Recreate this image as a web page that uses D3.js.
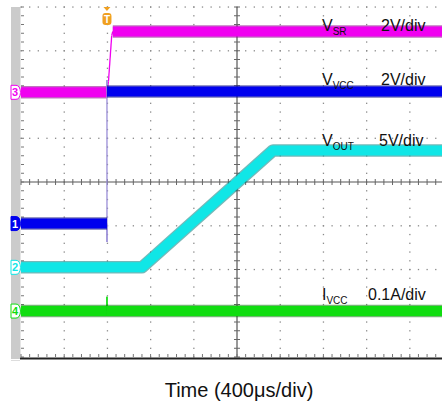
<!DOCTYPE html>
<html><head><meta charset="utf-8">
<script src="https://cdn.jsdelivr.net/npm/d3@7"></script>
<style>body{margin:0;background:#fff}svg{display:block}text{font-family:"Liberation Sans",Arial,sans-serif}</style>
</head><body><svg id="c" width="442" height="405"></svg>
<script>
// time in µs relative to screen centre (400 µs/div); levels in screen divisions
const timeTicks = [-2000,-1600,-1200,-800,-400,0,400,800,1200,1600,2000];
const divTicks = [-4,-3,-2,-1,0,1,2,3,4];
const vsrTime  = [-2000,-1204,-1190,-1160,-1150,2000];
const vsrLevel = [2.05,2.05,2.3,3.35,3.44,3.44];
const vccTime  = [-2000,-1204,-1204,-1204,-1204,2000];
const vccLevel = [-0.95,-0.95,-1.37,2.33,2.07,2.07];
const voutTime  = [-2000,-880,333,2000];
const voutLevel = [-1.95,-1.95,0.72,0.72];
const iccTime  = [-2000,-1204,-1204,-1204,2000];
const iccLevel = [-2.95,-2.95,-2.62,-2.95,-2.95];
const channelNames = ["3","1","2","4"];
const channelLevels = [2.05,-0.95,-1.95,-2.95];
const labelNames = [["V","SR","2V/div"],["V","VCC","2V/div"],["V","OUT","5V/div"],["I","VCC","0.1A/div"]];
const labelLevels = [3.6,2.35,0.95,-2.55];
const triggerTime = -1204;
const xLabel = "Time (400μs/div)";

const colors = {vsr:"#f000f0", vcc:"#0000ee", vout:"#10e6e6", icc:"#10dd10"};
const dark = {vsr:"#8a008a", vcc:"#00007a", vout:"#008080", icc:"#007a00"};
const chColors = [colors.vsr, colors.vcc, colors.vout, colors.icc];

const svg = d3.select("#c");
const x = d3.scaleLinear().domain([-2000,2000]).range([21,453]);
const y = d3.scaleLinear().domain([-4,4]).range([357,7]);

// left gray strip
svg.append("rect").attr("x",11).attr("y",7).attr("width",9.5).attr("height",352).attr("fill","#cbcbcb");

const g = svg.append("g");
const minorT = d3.range(-2000,2000.1,80);
const minorD = d3.range(-4,4.01,0.2);
// dotted grid
timeTicks.slice(1,-1).forEach(t=>{ if(t===0) return;
  minorD.forEach(d=>g.append("rect").attr("x",x(t)-0.6).attr("y",y(d)-0.6).attr("width",1.3).attr("height",1.3).attr("fill","#8a8a8a"));
});
divTicks.slice(0,-1).concat([4]).forEach(d=>{ if(d===0||d===-4) return;
  minorT.forEach(t=>g.append("rect").attr("x",x(t)-0.6).attr("y",y(d)-0.6).attr("width",1.3).attr("height",1.3).attr("fill","#8a8a8a"));
});
// centre axes
g.append("line").attr("x1",x(-2000)).attr("x2",x(2000)).attr("y1",y(0)).attr("y2",y(0)).attr("stroke","#555").attr("stroke-width",1.2);
g.append("line").attr("x1",x(0)).attr("x2",x(0)).attr("y1",y(-4)).attr("y2",y(4)).attr("stroke","#555").attr("stroke-width",1.2);
minorT.forEach(t=>{
  g.append("line").attr("x1",x(t)).attr("x2",x(t)).attr("y1",y(0)-3).attr("y2",y(0)+3).attr("stroke","#666");
  g.append("line").attr("x1",x(t)).attr("x2",x(t)).attr("y1",y(-4)-3).attr("y2",y(-4)).attr("stroke","#777");
});
minorD.forEach(d=>{
  g.append("line").attr("x1",x(0)-3).attr("x2",x(0)+3).attr("y1",y(d)).attr("y2",y(d)).attr("stroke","#666");
  g.append("line").attr("x1",x(-2000)).attr("x2",x(-2000)+3).attr("y1",y(d)).attr("y2",y(d)).attr("stroke","#777");
});
// bottom border
svg.append("line").attr("x1",20).attr("x2",442).attr("y1",358.5).attr("y2",358.5).attr("stroke","#222").attr("stroke-width",2);
svg.append("line").attr("x1",11).attr("x2",20).attr("y1",360.5).attr("y2",360.5).attr("stroke","#ddd").attr("stroke-width",1);

// traces: steep edges thin, flat/ramp thick
function trace(times, levels, key){
  const pts = times.map((t,i)=>[x(t),y(levels[i])]);
  const line = d3.line();
  let seg = [pts[0]], thick = [];
  const thin = [];
  for(let i=1;i<pts.length;i++){
    const dx = Math.abs(pts[i][0]-pts[i-1][0]);
    if(dx<6){ thin.push([pts[i-1],pts[i]]); if(seg.length>1) thick.push(seg); seg=[pts[i]]; }
    else seg.push(pts[i]);
  }
  if(seg.length>1) thick.push(seg);
  const tg = svg.append("g");
  thin.forEach(s=>tg.append("path").attr("d",line(s)).attr("fill","none").attr("stroke",key==="vcc"?"#9a8ed8":colors[key]).attr("stroke-width",1.3));
  thick.forEach(s=>{
    tg.append("path").attr("d",line(s)).attr("fill","none").attr("stroke",dark[key]).attr("stroke-opacity",0.55).attr("stroke-width",12.5).attr("stroke-linejoin","round");
    tg.append("path").attr("d",line(s)).attr("fill","none").attr("stroke",colors[key]).attr("stroke-width",10).attr("stroke-linejoin","round");
  });
}
trace(vsrTime, vsrLevel, "vsr");
trace(vccTime, vccLevel, "vcc");
trace(voutTime, voutLevel, "vout");
trace(iccTime, iccLevel, "icc");

// channel markers
channelNames.forEach((n,i)=>{
  const cy = y(channelLevels[i]), c = chColors[i], filled = n==="1";
  svg.append("path").attr("d",`M11,${cy-7} L16,${cy-7} Q20,${cy-7} 20.5,${cy} Q20,${cy+7} 16,${cy+7} L11,${cy+7} Z`)
    .attr("fill",filled?c:"#fff").attr("stroke",c).attr("stroke-width",1);
  svg.append("text").attr("x",15).attr("y",cy+4).attr("text-anchor","middle").attr("font-size",11).attr("font-weight","bold")
    .attr("fill",filled?"#fff":c).text(n);
});

// trigger marker
const tx = x(triggerTime);
svg.append("path").attr("d",`M${tx-3.5},7 L${tx+3.5},7 L${tx},11 Z`).attr("fill","#f0a020");
svg.append("rect").attr("x",tx-4.5).attr("y",13).attr("width",9).attr("height",12).attr("rx",3).attr("fill","#f0a020");
svg.append("text").attr("x",tx).attr("y",23).attr("text-anchor","middle").attr("font-size",10).attr("font-weight","bold").attr("fill","#fff").text("T");

// labels
labelNames.forEach((l,i)=>{
  const by = y(labelLevels[i]) + 6;
  const t = svg.append("text").attr("x",322).attr("y",by).attr("font-size",16).attr("fill","#111");
  t.append("tspan").text(l[0]);
  t.append("tspan").attr("font-size",10).attr("dy",4).text(l[1]);
  svg.append("text").attr("x",i===3?368:(i===2?379:381)).attr("y",by).attr("font-size",16).attr("fill","#111").text(l[2]);
});

svg.append("text").attr("x",239).attr("y",397).attr("text-anchor","middle").attr("font-size",20).attr("fill","#111").text(xLabel);
</script></body></html>
